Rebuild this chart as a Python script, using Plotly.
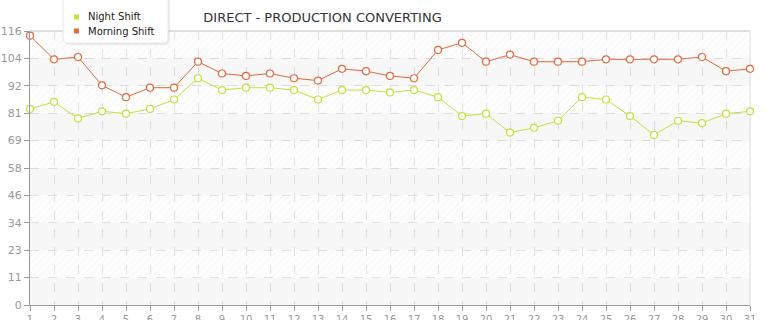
import plotly.graph_objects as go

days = list(range(1, 32))
night_shift = [83, 86, 79, 82, 81, 83, 87, 96, 91, 92, 92, 91, 87, 91, 91, 90,
               91, 88, 80, 81, 73, 75, 78, 88, 87, 80, 72, 78, 77, 81, 82]
morning_shift = [114, 104, 105, 93, 88, 92, 92, 103, 98, 97, 98, 96, 95, 100, 99, 97,
                 96, 108, 111, 103, 106, 103, 103, 103, 104, 104, 104, 104, 105, 99, 100]
y_tick_vals = [0, 11.6, 23.2, 34.8, 46.4, 58.0, 69.6, 81.2, 92.8, 104.4, 116]
y_tick_text = ["0", "11", "23", "34", "46", "58", "69", "81", "92", "104", "116"]
x_tick_text = [str(d) for d in days]
series_names = ["Night Shift", "Morning Shift"]

NIGHT_COLOR = "#c5df3e"
MORNING_COLOR = "#e2693a"
FONT = "DejaVu Sans"

W, H = 765, 320
ML, MR, MT, MB = 30, 15, 31, 15
PW, PH = W - ML - MR, H - MT - MB


def px(x):
    return (x - ML) / PW


def py(y):
    return (H - MB - y) / PH


def rounded_rect(x0, y0, x1, y1, r):
    # pixel coords -> paper path with rounded bottom corners
    return (f"M {px(x0)},{py(y0)} L {px(x1)},{py(y0)} "
            f"L {px(x1)},{py(y1 - r)} Q {px(x1)},{py(y1)} {px(x1 - r)},{py(y1)} "
            f"L {px(x0 + r)},{py(y1)} Q {px(x0)},{py(y1)} {px(x0)},{py(y1 - r)} Z")


fig = go.Figure()

# background bands (alternating plain / hatched)
plain_base = [y_tick_vals[i] for i in range(0, 10, 2)]
hatch_base = [y_tick_vals[i] for i in range(1, 10, 2)]
band_h = [y_tick_vals[i + 1] - y_tick_vals[i] for i in range(0, 10, 2)]
fig.add_trace(go.Bar(x=[16] * 5, y=band_h, base=plain_base, width=30,
                     marker=dict(color="rgba(0,0,0,0.03)", line_width=0),
                     hoverinfo="skip", showlegend=False))
fig.add_trace(go.Bar(x=[16] * 5, y=band_h, base=hatch_base, width=30,
                     marker=dict(color="rgba(0,0,0,0.008)", line_width=0,
                                 pattern=dict(shape="/", fgcolor="rgba(0,0,0,0.05)",
                                              size=5, solidity=0.2, fillmode="overlay")),
                     hoverinfo="skip", showlegend=False))

colors = [NIGHT_COLOR, MORNING_COLOR]
for name, vals, col in zip(series_names, [night_shift, morning_shift], colors):
    fig.add_trace(go.Scatter(x=days, y=vals, mode="lines+markers", name=name,
                             line=dict(color=col, width=1),
                             marker=dict(symbol="circle", size=7, color="white",
                                         line=dict(color=col, width=1.2)),
                             cliponaxis=False, showlegend=False))

# manual legend (box, swatches, labels)
shapes = [
    dict(type="line", xref="paper", yref="paper", x0=0, x1=1, y0=1, y1=1,
         line=dict(color="#e0e0e0", width=2), layer="below"),
    dict(type="line", xref="paper", yref="paper", x0=1, x1=1, y0=0, y1=1,
         line=dict(color="#e0e0e0", width=1), layer="below"),
    dict(type="path", xref="paper", yref="paper", path=rounded_rect(65, -5, 170, 45, 5),
         line=dict(width=0), fillcolor="rgba(0,0,0,0.07)", layer="above"),
    dict(type="path", xref="paper", yref="paper", path=rounded_rect(63, -5, 168, 43, 5),
         line=dict(color="#e6e6e6", width=1), fillcolor="white", layer="above"),
]
annotations = []
for i, (name, col) in enumerate(zip(series_names, colors)):
    cy = 17 + 14 * i
    shapes.append(dict(type="rect", xref="paper", yref="paper",
                       x0=px(74), x1=px(79), y0=py(cy + 2.5), y1=py(cy - 2.5),
                       line=dict(width=0), fillcolor=col, layer="above"))
    annotations.append(dict(text=name, xref="paper", yref="paper", x=px(86), y=py(cy),
                            xanchor="left", yanchor="middle", showarrow=False,
                            font=dict(family=FONT, size=10, color="#1a1a1a")))

fig.update_layout(
    width=W, height=H,
    margin=dict(l=ML, r=MR, t=MT, b=MB, autoexpand=False),
    paper_bgcolor="white", plot_bgcolor="white",
    barmode="overlay", bargap=0,
    font=dict(family=FONT, size=11, color="#999"),
    title=dict(text="DIRECT - PRODUCTION CONVERTING", x=0.4216, xanchor="center",
               y=1 - 17 / H, yanchor="middle",
               font=dict(family=FONT, size=13, color="#333")),
    showlegend=False,
    xaxis=dict(range=[1, 31], tickvals=days, ticktext=x_tick_text, automargin=False,
               showgrid=True, gridcolor="#e4e4e4", griddash="dash", gridwidth=1,
               showline=True, linecolor="#999", linewidth=1,
               ticks="outside", ticklen=5, tickcolor="#999",
               tickfont=dict(size=10, color="#999"), zeroline=False, fixedrange=True),
    yaxis=dict(range=[0, 116], tickvals=y_tick_vals, ticktext=y_tick_text, automargin=False,
               showgrid=True, gridcolor="#e4e4e4", griddash="dash", gridwidth=1,
               showline=True, linecolor="#999", linewidth=1,
               ticks="outside", ticklen=5, tickcolor="#999",
               tickfont=dict(size=11, color="#999"), zeroline=False, fixedrange=True),
    shapes=shapes,
    annotations=annotations,
)

fig.write_html("out.html")
